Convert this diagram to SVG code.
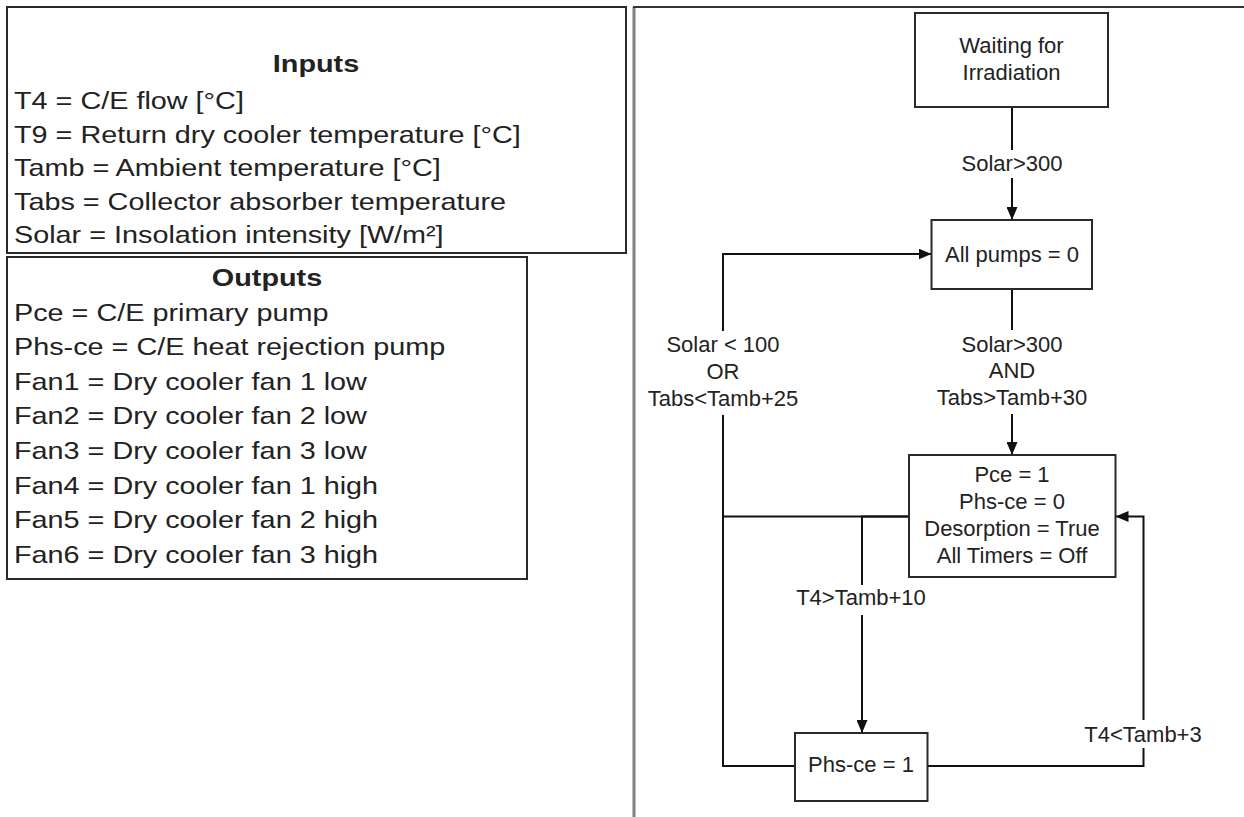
<svg xmlns="http://www.w3.org/2000/svg" width="1244" height="817" viewBox="0 0 1244 817">
<style>
.box{fill:#fff;stroke:#2a2a2a;stroke-width:2}
.conn{fill:none;stroke:#111;stroke-width:2}
.t{font-family:"Liberation Sans",Arial,sans-serif;font-size:22px;fill:#222}
.l{font-size:24px}
.c{text-anchor:middle}
.h{font-weight:bold}
.bg{fill:#fff;stroke:none}
</style>
<defs>
<marker id="arr" viewBox="0 0 13 11" refX="13" refY="5.5" markerWidth="13" markerHeight="11" markerUnits="userSpaceOnUse" orient="auto">
<path d="M0,0 L13,5.5 L0,11 z" fill="#111"/>
</marker>
</defs>
<rect width="1244" height="817" fill="#fff"/>

<g id="inputs">
<rect class="box" x="7" y="7" width="619" height="246"/>
<g transform="translate(316,0) scale(1.2,1)"><text class="t l c h" x="0" y="72">Inputs</text></g>
<g transform="translate(14,0) scale(1.2,1)">
<text class="t l" x="0" y="109">T4 = C/E flow [°C]</text>
<text class="t l" x="0" y="143">T9 = Return dry cooler temperature [°C]</text>
<text class="t l" x="0" y="176">Tamb = Ambient temperature [°C]</text>
<text class="t l" x="0" y="210">Tabs = Collector absorber temperature</text>
<text class="t l" x="0" y="243">Solar = Insolation intensity [W/m²]</text>
</g>
</g>

<g id="outputs">
<rect class="box" x="7" y="257" width="520" height="322"/>
<g transform="translate(267,0) scale(1.2,1)"><text class="t l c h" x="0" y="286">Outputs</text></g>
<g transform="translate(14,0) scale(1.2,1)">
<text class="t l" x="0" y="321">Pce = C/E primary pump</text>
<text class="t l" x="0" y="355.5">Phs-ce = C/E heat rejection pump</text>
<text class="t l" x="0" y="390">Fan1 = Dry cooler fan 1 low</text>
<text class="t l" x="0" y="424.5">Fan2 = Dry cooler fan 2 low</text>
<text class="t l" x="0" y="459">Fan3 = Dry cooler fan 3 low</text>
<text class="t l" x="0" y="494">Fan4 = Dry cooler fan 1 high</text>
<text class="t l" x="0" y="528.5">Fan5 = Dry cooler fan 2 high</text>
<text class="t l" x="0" y="563">Fan6 = Dry cooler fan 3 high</text>
</g>
</g>

<g id="panel">
<path d="M634,817 V7" fill="none" stroke="#808080" stroke-width="3"/>
<path d="M633,7 H1244" fill="none" stroke="#333" stroke-width="2"/>
</g>

<g id="connectors">
<path class="conn" d="M1012,107 V220" marker-end="url(#arr)"/>
<path class="conn" d="M1012,289 V455" marker-end="url(#arr)"/>
<path class="conn" d="M909,516.5 H723 V254 H931.5" marker-end="url(#arr)"/>
<path class="conn" d="M795,766 H723 V516"/>
<path class="conn" d="M909,516.5 H862 V733" marker-end="url(#arr)"/>
<path class="conn" d="M927.5,766 H1143.5 V516.5 H1115.5" marker-end="url(#arr)"/>
<g id="labels">
<rect class="bg" x="960" y="150" width="104" height="28"/>
<text class="t c" x="1012" y="170.5">Solar&gt;300</text>
<rect class="bg" x="932" y="330" width="160" height="84"/>
<text class="t c" x="1012" y="351.5">Solar&gt;300</text>
<text class="t c" x="1012" y="378">AND</text>
<text class="t c" x="1012" y="405">Tabs&gt;Tamb+30</text>
<rect class="bg" x="643" y="331" width="160" height="84"/>
<text class="t c" x="723" y="352">Solar &lt; 100</text>
<text class="t c" x="723" y="379">OR</text>
<text class="t c" x="723" y="406">Tabs&lt;Tamb+25</text>
<rect class="bg" x="793" y="585" width="138" height="30"/>
<text class="t c" x="861" y="605">T4&gt;Tamb+10</text>
<rect class="bg" x="1081" y="720" width="124" height="28"/>
<text class="t c" x="1143" y="741.5">T4&lt;Tamb+3</text>
</g>
</g>

<g id="waiting">
<rect class="box" x="915" y="13" width="193" height="94"/>
<text class="t c" x="1011.5" y="53">Waiting for</text>
<text class="t c" x="1011.5" y="80">Irradiation</text>
</g>

<g id="allpumps">
<rect class="box" x="931.5" y="220" width="160.5" height="69"/>
<text class="t c" x="1012" y="261.5">All pumps = 0</text>
</g>

<g id="pce">
<rect class="box" x="909" y="455" width="206.5" height="122"/>
<text class="t c" x="1012" y="482">Pce = 1</text>
<text class="t c" x="1012" y="509">Phs-ce = 0</text>
<text class="t c" x="1012" y="536">Desorption = True</text>
<text class="t c" x="1012" y="563">All Timers = Off</text>
</g>

<g id="phsce">
<rect class="box" x="795" y="733" width="132.5" height="68"/>
<text class="t c" x="861" y="771.5">Phs-ce = 1</text>
</g>
</svg>
